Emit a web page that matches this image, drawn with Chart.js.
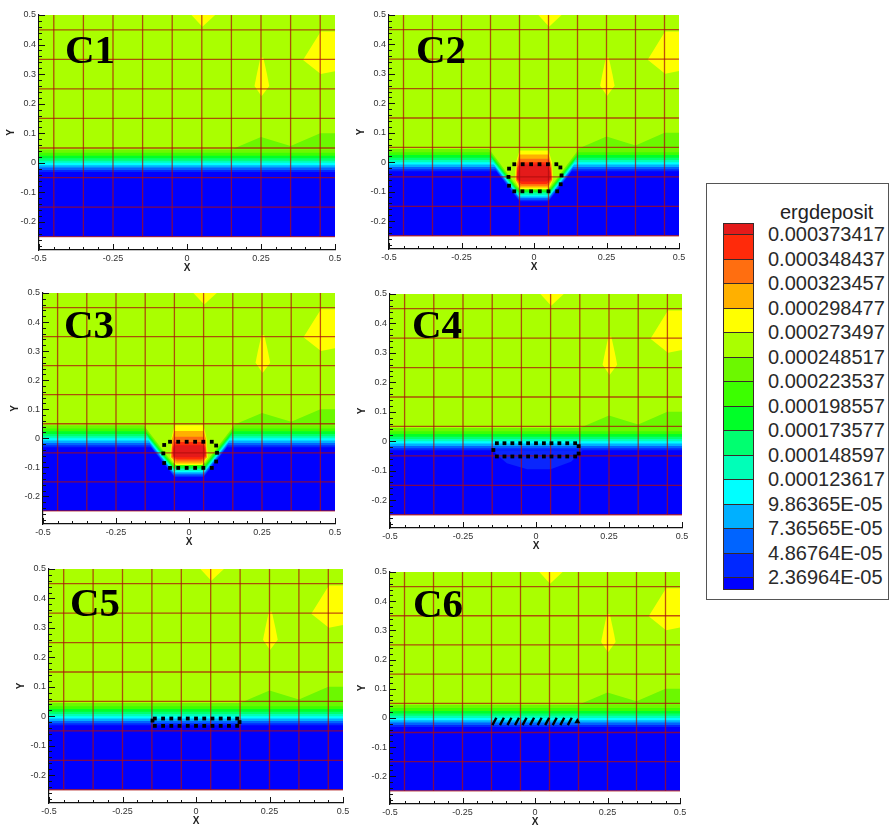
<!DOCTYPE html>
<html>
<head>
<meta charset="utf-8">
<title>ergdeposit</title>
<script src="https://cdn.jsdelivr.net/npm/chart.js@4.4.1/dist/chart.umd.min.js"></script>
<style>
  html, body { margin: 0; padding: 0; background: #fff; }
  body { position: relative; width: 895px; height: 827px; overflow: hidden; font-family: "Liberation Sans", Arial, sans-serif; }
  .panel { position: absolute; }
  #legend { position: absolute; left: 706px; top: 183px; width: 183px; height: 417px; border: 1px solid #555; box-sizing: border-box; background: #fff; }
  #legend .title { position: absolute; left: 73px; top: 16px; font-size: 20px; line-height: 24px; color: #222; }
  #legend .swatch { position: absolute; left: 16px; width: 31px; box-sizing: border-box; border: 1px solid #3a2a2a; }
  #legend .value { position: absolute; left: 61px; font-size: 20px; line-height: 24px; color: #2a2a2a; white-space: nowrap; }
</style>
</head>
<body>
<div id="legend"></div>
<script>
// contour levels, top of the legend first
const levelLabels = [
  "0.000373417", "0.000348437", "0.000323457", "0.000298477", "0.000273497",
  "0.000248517", "0.000223537", "0.000198557", "0.000173577", "0.000148597",
  "0.000123617", "9.86365E-05", "7.36565E-05", "4.86764E-05", "2.36964E-05",
];
const levelColors = [
  "#e41a1a", "#ff2a0a", "#ff6e10", "#ffb000", "#ffff00", "#aaff00", "#6cf800", "#3cff00",
  "#00ff28", "#00ff70", "#00ffb8", "#00ffff", "#00b0ff", "#0064ff", "#0028ff", "#0000ff",
];

const domainX = [-0.5, 0.5];
const domainY = [-0.25, 0.5];
const yAxisMin = -0.295;

const xTicks = [-0.5, -0.25, 0, 0.25, 0.5];
const xMinorTicks = [-0.45, -0.4, -0.35, -0.3, -0.2, -0.15, -0.1, -0.05, 0.05, 0.1, 0.15, 0.2, 0.3, 0.35, 0.4, 0.45];
const yTicks = [-0.2, -0.1, 0, 0.1, 0.2, 0.3, 0.4, 0.5];
const yMinorTicks = [-0.28, -0.26, -0.24, -0.22, -0.18, -0.16, -0.14, -0.12, -0.08, -0.06, -0.04, -0.02,
  0.02, 0.04, 0.06, 0.08, 0.12, 0.14, 0.16, 0.18, 0.22, 0.24, 0.26, 0.28, 0.32, 0.34, 0.36, 0.38,
  0.42, 0.44, 0.46, 0.48];

// red mesh lines
const gridX = [-0.45, -0.35, -0.25, -0.15, -0.05, 0.05, 0.15, 0.25, 0.35, 0.45];
const gridY = [-0.25, -0.15, -0.05, 0.05, 0.15, 0.25, 0.35, 0.45];

// band boundaries in the flat part (level 5 above the first, level 15 below the last)
const bandLevels = [0.045, 0.034, 0.024, 0.015, 0.007, 0.0, -0.008, -0.016, -0.024, -0.031];
// the dip under the source in C2 / C3, one entry per boundary
const dipWallX = [0.155, 0.152, 0.149, 0.146, 0.143, 0.140, 0.138, 0.135, 0.133, 0.130];
const dipBottomX = [0.056, 0.056, 0.055, 0.054, 0.054, 0.053, 0.052, 0.051, 0.051, 0.050];
const dipBottomY = [-0.085, -0.090, -0.096, -0.101, -0.106, -0.112, -0.117, -0.122, -0.128, -0.133];

const greenBump = [[0.15, 0.045], [0.25, 0.087], [0.35, 0.057], [0.45, 0.1], [0.5, 0.1], [0.5, 0.045]];
const yellowTop = [[0.015, 0.5], [0.052, 0.46], [0.095, 0.5]];
const yellowSpindle = [[0.248, 0.355], [0.258, 0.355], [0.27, 0.3], [0.278, 0.26], [0.252, 0.225], [0.228, 0.26], [0.236, 0.3]];
const yellowCorner = [[0.392, 0.348], [0.452, 0.444], [0.5, 0.444], [0.5, 0.31], [0.452, 0.3]];

// hot core, outer (level 4) to inner (level 0)
const coreC2 = [
  [[-0.05, 0.04], [0.05, 0.04], [0.062, 0.0], [0.066, -0.06], [0.05, -0.092], [-0.05, -0.092], [-0.066, -0.06], [-0.062, 0.0]],
  [[-0.05, 0.026], [0.05, 0.026], [0.06, -0.005], [0.064, -0.06], [0.048, -0.086], [-0.048, -0.086], [-0.064, -0.06], [-0.06, -0.005]],
  [[-0.049, 0.012], [0.049, 0.012], [0.059, -0.01], [0.062, -0.06], [0.046, -0.08], [-0.046, -0.08], [-0.062, -0.06], [-0.059, -0.01]],
  [[-0.047, 0.0], [0.047, 0.0], [0.058, -0.02], [0.06, -0.058], [0.044, -0.074], [-0.044, -0.074], [-0.06, -0.058], [-0.058, -0.02]],
  [[-0.044, -0.008], [0.044, -0.008], [0.057, -0.035], [0.058, -0.056], [0.042, -0.066], [-0.042, -0.066], [-0.058, -0.056], [-0.057, -0.035]],
];
const coreC3 = [
  [[-0.05, 0.045], [0.05, 0.045], [0.06, 0.0], [0.064, -0.065], [0.046, -0.092], [-0.046, -0.092], [-0.064, -0.065], [-0.06, 0.0]],
  [[-0.05, 0.025], [0.05, 0.025], [0.058, 0.0], [0.062, -0.065], [0.044, -0.087], [-0.044, -0.087], [-0.062, -0.065], [-0.058, 0.0]],
  [[-0.049, 0.005], [0.049, 0.005], [0.057, -0.015], [0.06, -0.064], [0.042, -0.08], [-0.042, -0.08], [-0.06, -0.064], [-0.057, -0.015]],
  [[-0.048, -0.013], [0.048, -0.013], [0.056, -0.03], [0.058, -0.062], [0.042, -0.073], [-0.042, -0.073], [-0.058, -0.062], [-0.056, -0.03]],
  [[-0.046, -0.024], [0.046, -0.024], [0.055, -0.036], [0.056, -0.058], [0.044, -0.065], [-0.044, -0.065], [-0.056, -0.058], [-0.055, -0.036]],
];
const blueBumpC4 = [[-0.15, -0.031], [0.16, -0.031], [0.12, -0.07], [0.05, -0.095], [-0.03, -0.095], [-0.1, -0.075]];

// dotted outlines of the source region
const dotsC2 = [[-0.068, -0.007], [-0.039, -0.007], [-0.01, -0.007], [0.019, -0.007], [0.048, -0.007], [0.077, -0.007],
  [0.091, -0.018], [0.095, -0.045], [0.092, -0.075], [0.08, -0.099], [0.05, -0.099], [0.02, -0.099], [-0.01, -0.099],
  [-0.04, -0.099], [-0.068, -0.099], [-0.086, -0.08], [-0.088, -0.05], [-0.086, -0.022]];
const dotsC3 = [[-0.065, -0.012], [-0.037, -0.012], [-0.008, -0.012], [0.021, -0.012], [0.049, -0.012], [0.078, -0.012],
  [0.093, -0.025], [0.096, -0.05], [0.093, -0.08], [0.078, -0.102], [0.049, -0.102], [0.021, -0.102], [-0.008, -0.102],
  [-0.037, -0.102], [-0.065, -0.102], [-0.085, -0.085], [-0.088, -0.052], [-0.085, -0.023]];
const dotsC4 = [[-0.134, -0.007], [-0.108, -0.007], [-0.081, -0.007], [-0.054, -0.007], [-0.027, -0.007], [0.0, -0.007],
  [0.027, -0.007], [0.053, -0.007], [0.08, -0.007], [0.107, -0.007], [0.134, -0.007], [0.146, -0.017], [0.146, -0.042],
  [0.134, -0.052], [0.107, -0.052], [0.08, -0.052], [0.053, -0.052], [0.027, -0.052], [0.0, -0.052], [-0.027, -0.052],
  [-0.054, -0.052], [-0.081, -0.052], [-0.108, -0.052], [-0.134, -0.052], [-0.146, -0.03]];
const dotsC5 = [[-0.14, -0.008], [-0.112, -0.008], [-0.084, -0.008], [-0.056, -0.008], [-0.028, -0.008], [0.0, -0.008],
  [0.028, -0.008], [0.056, -0.008], [0.084, -0.008], [0.112, -0.008], [0.14, -0.008], [0.148, -0.02],
  [0.14, -0.033], [0.112, -0.033], [0.084, -0.033], [0.056, -0.033], [0.028, -0.033], [0.0, -0.033],
  [-0.028, -0.033], [-0.056, -0.033], [-0.084, -0.033], [-0.112, -0.033], [-0.14, -0.033], [-0.148, -0.015]];
const dashesC6 = [[-0.14, -0.012], [-0.114, -0.012], [-0.088, -0.012], [-0.062, -0.012], [-0.036, -0.012], [-0.01, -0.012],
  [0.016, -0.012], [0.042, -0.012], [0.068, -0.012], [0.094, -0.012], [0.12, -0.012]];
const arrowC6 = [[0.146, -0.012]];

const gridColor = "rgba(172, 12, 12, 0.72)";
const blueBumpColor = "#0a26fc";

const panels = [
  { id: "C1", left: 39, top: 15, right: 335, bottom: 250, tag: [26, 48], dip: false },
  { id: "C2", left: 389, top: 15, right: 679, bottom: 249, tag: [27, 48], dip: true, core: coreC2, dots: dotsC2 },
  { id: "C3", left: 43, top: 293, right: 335, bottom: 524, tag: [21, 45], dip: true, core: coreC3, dots: dotsC3 },
  { id: "C4", left: 390, top: 294, right: 682, bottom: 528, tag: [22, 44], dip: false, bump: blueBumpC4, dots: dotsC4 },
  { id: "C5", left: 49, top: 569, right: 343, bottom: 803, tag: [21, 47], dip: false, dots: dotsC5 },
  { id: "C6", left: 390, top: 572, right: 680, bottom: 804, tag: [23, 45], dip: false, dashes: dashesC6 },
];

const AXIS_W = 38;
const AXIS_H = 25;
const PAD_TOP = 8;
const PAD_RIGHT = 14;

function toXY(points) {
  return points.map(([x, y]) => ({ x, y }));
}

function area(points, color, fill) {
  return {
    data: toXY(points),
    fill,
    backgroundColor: color,
    borderColor: "rgba(0,0,0,0)",
    borderWidth: 0,
    pointRadius: 0,
  };
}

function boundaryLine(k, dip) {
  const h = bandLevels[k];
  if (!dip) return [[domainX[0], h], [domainX[1], h]];
  return [
    [domainX[0], h], [-dipWallX[k], h], [-dipBottomX[k], dipBottomY[k]],
    [dipBottomX[k], dipBottomY[k]], [dipWallX[k], h], [domainX[1], h],
  ];
}

function gridSets() {
  const v = [];
  const h = [];
  gridX.forEach((gx) => v.push({ x: gx, y: domainY[0] }, { x: gx, y: domainY[1] }, { x: gx, y: null }));
  gridY.forEach((gy) => h.push({ x: domainX[0], y: gy }, { x: domainX[1], y: gy }, { x: domainX[1], y: null }));
  return [v, h].map((data) => ({
    data,
    fill: false,
    borderColor: gridColor,
    borderWidth: 1.3,
    pointRadius: 0,
    spanGaps: false,
  }));
}

function buildDatasets(p) {
  const sets = [];
  sets.push(area([[domainX[0], domainY[0]], [domainX[1], domainY[0]]], levelColors[15], "end"));
  if (p.bump) sets.push(area(p.bump, blueBumpColor, "shape"));
  for (let k = bandLevels.length - 1; k >= 0; k--) {
    sets.push(area(boundaryLine(k, p.dip), levelColors[5 + k], "end"));
  }
  sets.push(area(greenBump, levelColors[6], "shape"));
  [yellowTop, yellowSpindle, yellowCorner].forEach((s) => sets.push(area(s, levelColors[4], "shape")));
  if (p.core) p.core.forEach((ring, i) => sets.push(area(ring, levelColors[4 - i], "shape")));
  sets.push(...gridSets());
  if (p.dots) {
    sets.push({
      data: toXY(p.dots),
      showLine: false,
      pointStyle: "rect",
      pointRadius: 2.7,
      pointBackgroundColor: "#000",
      pointBorderWidth: 0,
    });
  }
  if (p.dashes) {
    sets.push({
      data: toXY(p.dashes),
      showLine: false,
      pointStyle: "line",
      pointRotation: -62,
      pointRadius: 4.2,
      pointBorderColor: "#000",
      pointBorderWidth: 2.4,
    });
    sets.push({
      data: toXY(arrowC6),
      showLine: false,
      pointStyle: "triangle",
      pointRadius: 3.5,
      pointBackgroundColor: "#000",
      pointBorderWidth: 0,
    });
  }
  // first entry is painted first
  sets.forEach((s, i) => { s.order = sets.length - i; });
  return sets;
}

const inwardTicks = {
  id: "inwardTicks",
  afterDraw(chart) {
    const { ctx, chartArea: a, scales: { x, y } } = chart;
    ctx.save();
    ctx.strokeStyle = "#111";
    ctx.lineWidth = 1;
    ctx.beginPath();
    const xs = (vals, len) => vals.forEach((v) => {
      const px = Math.round(x.getPixelForValue(v)) + 0.5;
      ctx.moveTo(px, a.bottom);
      ctx.lineTo(px, a.bottom - len);
    });
    const ys = (vals, len) => vals.forEach((v) => {
      const py = Math.round(y.getPixelForValue(v)) + 0.5;
      ctx.moveTo(a.left, py);
      ctx.lineTo(a.left + len, py);
    });
    xs(xTicks, 6);
    xs(xMinorTicks, 3);
    ys(yTicks, 6);
    ys(yMinorTicks, 3);
    ctx.stroke();
    ctx.restore();
  },
};

const panelTag = {
  id: "panelTag",
  afterDatasetsDraw(chart, args, opts) {
    const { ctx, chartArea: a } = chart;
    ctx.save();
    ctx.font = 'bold 41px "Liberation Serif", "Times New Roman", serif';
    ctx.fillStyle = "#000";
    ctx.textBaseline = "alphabetic";
    ctx.fillText(opts.text, a.left + opts.dx, a.top + opts.dy);
    ctx.restore();
  },
};

const tickFont = { family: '"Liberation Sans", Arial, sans-serif', size: 9 };
const titleFont = { family: '"Liberation Sans", Arial, sans-serif', size: 10, weight: "bold" };

function drawPanel(p) {
  const canvas = document.createElement("canvas");
  canvas.className = "panel";
  const w = AXIS_W + (p.right - p.left) + PAD_RIGHT;
  const h = PAD_TOP + (p.bottom - p.top) + AXIS_H;
  canvas.width = w;
  canvas.height = h;
  canvas.style.left = `${p.left - AXIS_W}px`;
  canvas.style.top = `${p.top - PAD_TOP}px`;
  canvas.style.width = `${w}px`;
  canvas.style.height = `${h}px`;
  document.body.appendChild(canvas);

  new Chart(canvas, {
    type: "line",
    data: { datasets: buildDatasets(p) },
    options: {
      responsive: false,
      animation: false,
      devicePixelRatio: 1,
      events: [],
      layout: { padding: { top: PAD_TOP, right: PAD_RIGHT, left: 0, bottom: 0 } },
      elements: { line: { tension: 0 }, point: { radius: 0 } },
      plugins: {
        legend: { display: false },
        tooltip: { enabled: false },
        panelTag: { text: p.id, dx: p.tag[0], dy: p.tag[1] },
      },
      scales: {
        x: {
          type: "linear",
          min: domainX[0],
          max: domainX[1],
          afterBuildTicks(axis) { axis.ticks = xTicks.map((value) => ({ value })); },
          afterFit(axis) { axis.height = AXIS_H; axis.paddingLeft = 0; axis.paddingRight = 0; },
          grid: { display: false, drawTicks: false },
          border: { display: true, color: "#111", width: 1.2 },
          ticks: { font: tickFont, color: "#333", padding: 3, maxRotation: 0, autoSkip: false, callback: (v) => String(v) },
          title: { display: true, text: "X", font: titleFont, color: "#222", padding: { top: 0, bottom: 1 } },
        },
        y: {
          type: "linear",
          min: yAxisMin,
          max: domainY[1],
          afterBuildTicks(axis) { axis.ticks = yTicks.map((value) => ({ value })); },
          afterFit(axis) { axis.width = AXIS_W; axis.paddingTop = 0; axis.paddingBottom = 0; },
          grid: { display: false, drawTicks: false },
          border: { display: true, color: "#111", width: 1.2 },
          ticks: { font: tickFont, color: "#333", padding: 3, autoSkip: false, callback: (v) => String(v) },
          title: { display: true, text: "Y", font: titleFont, color: "#222", padding: { top: 4, bottom: 0 } },
        },
      },
    },
    plugins: [panelTag, inwardTicks],
  });
}

function buildLegend() {
  const box = document.getElementById("legend");
  const first = 50.3;
  const step = 24.5;
  const cap = 11.6;
  let html = `<div class="title">ergdeposit</div>`;
  levelColors.forEach((color, i) => {
    const last = i === levelColors.length - 1;
    const top = i === 0 ? first - cap : first + (i - 1) * step;
    const height = i === 0 || last ? cap : step;
    html += `<div class="swatch" style="top:${top}px;height:${height + 1}px;background:${color}"></div>`;
  });
  levelLabels.forEach((label, i) => {
    html += `<div class="value" style="top:${first + i * step - 12}px">${label}</div>`;
  });
  box.innerHTML = html;
}

panels.forEach(drawPanel);
buildLegend();
</script>
</body>
</html>
